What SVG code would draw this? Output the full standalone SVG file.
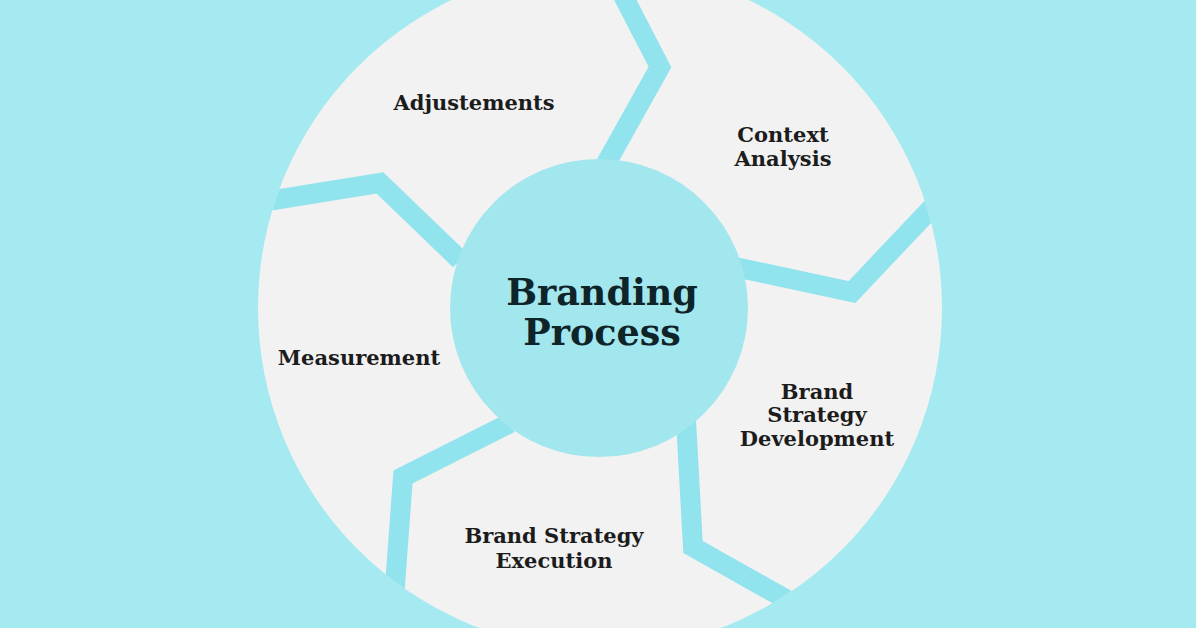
<svg xmlns="http://www.w3.org/2000/svg" width="1196" height="628" viewBox="0 0 1196 628">
  <defs>
    <style>
      .lbl { font-family: "DejaVu Serif", "Liberation Serif", serif; font-weight: bold; font-size: 21px; fill: #1c1c1c; text-anchor: middle; }
      .ctr { font-family: "DejaVu Serif", "Liberation Serif", serif; font-weight: bold; font-size: 36.5px; fill: #0f2429; text-anchor: middle; }
      .gap { fill: none; stroke: #91e3ed; stroke-width: 20; stroke-linejoin: miter; stroke-miterlimit: 10; }
    </style>
    <clipPath id="outer">
      <circle cx="600" cy="308" r="342"/>
    </clipPath>
  </defs>
  <rect width="1196" height="628" fill="#a5e9f1"/>
  <circle cx="600" cy="308" r="342" fill="#f2f2f2"/>
  <g id="connectors" clip-path="url(#outer)">
    <polyline class="gap" points="598,178 660,67 615,-20"/>
    <polyline class="gap" points="735,267 852,292 940,199"/>
    <polyline class="gap" points="686,420 693,547 830,624"/>
    <polyline class="gap" points="510,423 403,477 391,640"/>
    <polyline class="gap" points="460,260 380,183 250,204"/>
  </g>
  <g id="center">
    <circle cx="599" cy="308" r="149" fill="#a2e6ee"/>
    <text class="ctr" x="602" y="305">Branding</text>
    <text class="ctr" x="602" y="345">Process</text>
  </g>
  <g id="adjustements">
    <text class="lbl" x="474" y="110">Adjustements</text>
  </g>
  <g id="context-analysis">
    <text class="lbl" x="783" y="142">Context</text>
    <text class="lbl" x="783" y="166">Analysis</text>
  </g>
  <g id="brand-strategy-development">
    <text class="lbl" x="817" y="399">Brand</text>
    <text class="lbl" x="817" y="422">Strategy</text>
    <text class="lbl" x="817" y="446">Development</text>
  </g>
  <g id="brand-strategy-execution">
    <text class="lbl" x="554" y="543">Brand Strategy</text>
    <text class="lbl" x="554" y="568">Execution</text>
  </g>
  <g id="measurement">
    <text class="lbl" x="359" y="365">Measurement</text>
  </g>
</svg>
